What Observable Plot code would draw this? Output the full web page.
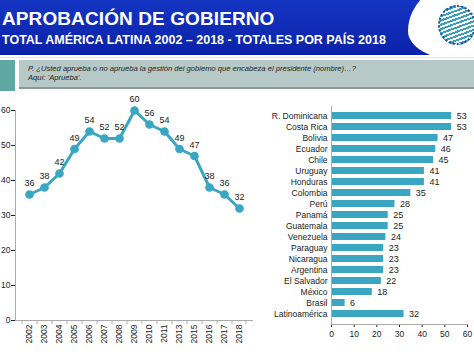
<!DOCTYPE html>
<html><head><meta charset="utf-8">
<script src="https://cdn.jsdelivr.net/npm/d3@7"></script>
<script src="https://cdn.jsdelivr.net/npm/@observablehq/plot@0.6"></script>
<style>
body{margin:0;width:474px;height:355px;overflow:hidden;background:#fff;font-family:Arial,"Liberation Sans",sans-serif;position:relative}
#hdr{position:absolute;left:0;top:0;width:474px;height:55px;background:linear-gradient(180deg,#1435c2 0%,#0b22a8 100%)}
#logo{position:absolute;left:408px;top:-20px;width:110px;height:80px;background:#fff;border-radius:60% 0 0 50%/70% 0 0 40%}
#logoc{position:absolute;left:438px;top:5px;width:38px;height:40px;border-radius:50%;border:2px dotted #1d4a8a;box-sizing:border-box;background:repeating-linear-gradient(160deg,#3aa0c0 0 2px,#fff 2px 4px)}
#t1{position:absolute;left:2px;top:8px;color:#fff;font-weight:bold;font-size:19px;letter-spacing:0.1px}
#t2{position:absolute;left:2px;top:33px;color:#fff;font-weight:bold;font-size:12.5px}
#sep{position:absolute;left:0;top:57px;width:474px;height:1px;background:#dde6e6}
#tq{position:absolute;left:0;top:60px;width:15px;height:31px;background:#5fa7a1}
#q{position:absolute;left:19px;top:60px;width:455px;height:29px;background:#b7c9c6;border-bottom:2px solid #8a9a98;font-style:italic;font-size:7.6px;color:#222;box-sizing:border-box;padding:4px 0 0 9px;line-height:9px}
#c1{position:absolute;left:0;top:95px}
#c2{position:absolute;left:260px;top:95px}
svg{overflow:visible}
</style></head><body>
<div id="hdr"><div id="t1">APROBACIÓN DE GOBIERNO</div><div id="t2">TOTAL AMÉRICA LATINA 2002 – 2018 - TOTALES POR PAÍS 2018</div></div>
<div id="logo"></div><div id="logoc"></div>
<div id="sep"></div>
<div id="tq"></div>
<div id="q">P. ¿Usted aprueba o no aprueba la gestión del gobiemo que encabeza el presidente (nombre)…?<br>Aquí: 'Aprueba'.</div>
<div id="c1"></div><div id="c2"></div>
<script>
const years = ["2002","2003","2004","2005","2006","2007","2008","2009","2010","2011","2013","2015","2016","2017","2018"];
const approval = [36,38,42,49,54,52,52,60,56,54,49,47,38,36,32];
const countries = ["R. Dominicana","Costa Rica","Bolivia","Ecuador","Chile","Uruguay","Honduras","Colombia","Perú","Panamá","Guatemala","Venezuela","Paraguay","Nicaragua","Argentina","El Salvador","México","Brasil","Latinoamérica"];
const countryValues = [53,53,47,46,45,41,41,35,28,25,25,24,23,23,23,22,18,6,32];
const yTicks = [0,10,20,30,40,50,60];
const xTicks = [0,10,20,30,40,50,60];

const blue = "#3aa6c2";
const lineData = years.map((y,i)=>({year:y, v:approval[i]}));
const c1 = Plot.plot({
  width:260, height:260, marginLeft:15, marginRight:7, marginTop:15, marginBottom:35,
  style:{fontFamily:"Arial, 'Liberation Sans', sans-serif", fontSize:"8.5px", color:"#222", background:"transparent"},
  x:{type:"band", domain:years, label:null, tickSize:0, tickRotate:-90, tickPadding:4},
  y:{domain:[0,60], ticks:yTicks, label:null, tickSize:4, tickPadding:1},
  marks:[
    Plot.ruleY([0],{stroke:"#aaa"}),
    Plot.frame({anchor:"left", stroke:"#aaa"}),
    Plot.line(lineData,{x:"year", y:"v", stroke:blue, strokeWidth:3}),
    Plot.dot(lineData,{x:"year", y:"v", fill:blue, stroke:blue, r:3.6}),
    Plot.text(lineData,{x:"year", y:"v", text:d=>String(d.v), dy:-11, fill:"#222", fontSize:9})
  ]
});
document.getElementById("c1").appendChild(c1);

// boundary ticks between year categories
{
  const sx = c1.scale("x");
  const ys = c1.scale("y");
  const svg = d3.select(c1);
  const y0 = ys.apply(0);
  const edges = years.map(y => sx.apply(y)).concat([sx.apply(years[years.length-1]) + sx.bandwidth]);
  edges.forEach(x => {
    svg.append("line").attr("x1",x).attr("x2",x).attr("y1",y0).attr("y2",y0+4).attr("stroke","#aaa");
  });
}

const barData = countries.map((c,i)=>({c, v:countryValues[i]}));
const c2 = Plot.plot({
  width:214, height:260, marginLeft:71, marginRight:7, marginTop:11, marginBottom:31,
  style:{fontFamily:"Arial, 'Liberation Sans', sans-serif", fontSize:"8.5px", color:"#222", background:"transparent"},
  x:{domain:[0,60], ticks:xTicks, label:null, tickSize:3, tickPadding:3},
  y:{domain:countries, label:null, padding:0.32, tickSize:0, tickPadding:4},
  marks:[
    Plot.barX(barData,{y:"c", x:"v", fill:blue}),
    Plot.text(barData,{y:"c", x:"v", text:d=>String(d.v), dx:5, textAnchor:"start", fill:"#222", fontSize:9}),
    Plot.frame({anchor:"bottom", stroke:"#aaa"}),
    Plot.frame({anchor:"left", stroke:"#aaa"})
  ]
});
document.getElementById("c2").appendChild(c2);
</script>
</body></html>
